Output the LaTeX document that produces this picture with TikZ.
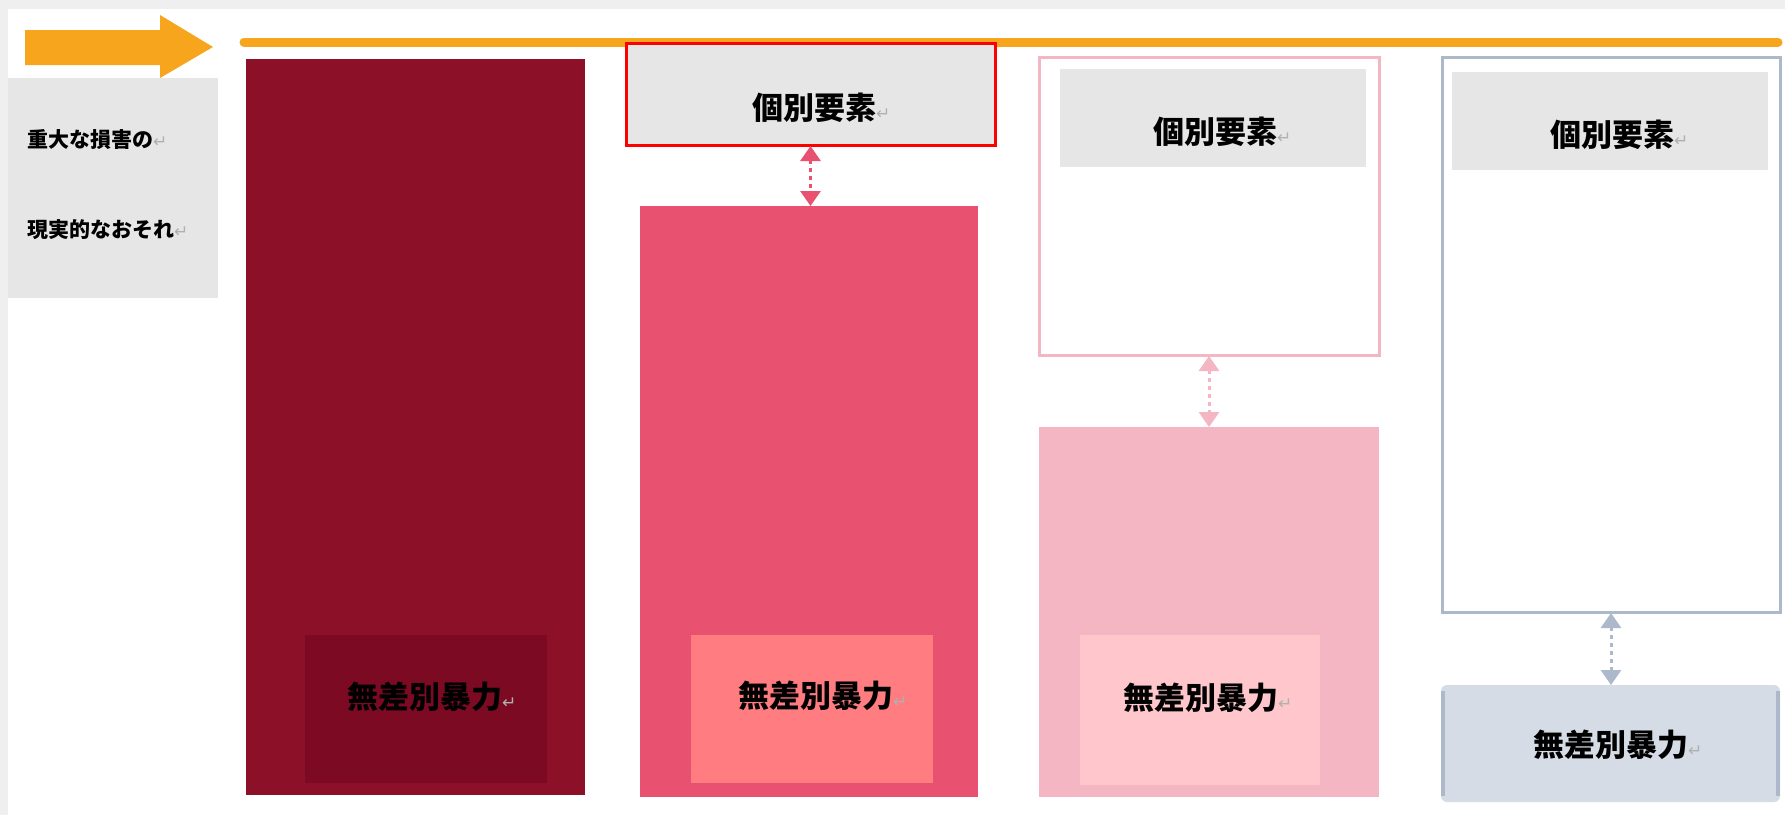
\documentclass[tikz,border=0pt]{standalone}
\usepackage{fontspec}
\newfontfamily\jpfont{Noto Sans CJK JP}
\newfontfamily\dvfont{DejaVu Sans}
\usetikzlibrary{arrows.meta}
\definecolor{bggray}{HTML}{EFEFEF}
\definecolor{orangebar}{HTML}{F7A51C}
\definecolor{labelgray}{HTML}{E7E6E6}
\definecolor{darkcrimson}{HTML}{8B1028}
\definecolor{darkcrimsonin}{HTML}{7C0A22}
\definecolor{rosered}{HTML}{E8516F}
\definecolor{salmon}{HTML}{FF7C80}
\definecolor{lightpink}{HTML}{F4B6C2}
\definecolor{palepink}{HTML}{FFC7CC}
\definecolor{grayblue}{HTML}{ADB9CA}
\definecolor{paleblue}{HTML}{D6DCE5}
\definecolor{markgray}{HTML}{B0B0B0}
\newcommand{\parmk}{{\dvfont\mdseries\color{markgray}\fontsize{17}{17}\selectfont ↵}}
\tikzset{
  box/.style={rectangle, inner sep=0pt, outer sep=0pt, anchor=north west},
  bigtxt/.style={font=\jpfont\bfseries\fontsize{31}{36}\selectfont, inner sep=0pt, anchor=west, text=black},
  smalltxt/.style={font=\jpfont\bfseries\fontsize{21}{24}\selectfont, inner sep=0pt, anchor=west, text=black},
  dblarrow/.style={line width=3pt, dash pattern=on 4pt off 4pt,
    {Triangle[width=20pt,length=15pt]}-{Triangle[width=20pt,length=15pt]}, shorten <=1pt}
}
\begin{document}
\begin{tikzpicture}[x=1pt,y=-1pt]
\useasboundingbox (0,0) rectangle (1785,815);
% background
\fill[bggray] (0,0) rectangle (1785,815);
\fill[white] (8,9) rectangle (1785,815);
% orange arrow and bar
\fill[orangebar] (25,30) -- (160,30) -- (160,15) -- (213,47) -- (160,78) -- (160,65) -- (25,65) -- cycle;
\draw[orangebar, line width=9pt, line cap=round] (244,42) -- (1778,42);
% label box
\node[box, fill=labelgray, minimum width=210pt, minimum height=220pt] (lbl) at (8,78) {};
\node[smalltxt] (lbl1) at (27,140) {重大な損害の\parmk};
\node[smalltxt] (lbl2) at (27,230) {現実的なおそれ\parmk};
% column 1
\node[box, fill=darkcrimson, minimum width=339pt, minimum height=736pt] (r1) at (246,59) {};
\node[box, fill=darkcrimsonin, minimum width=242pt, minimum height=148pt] (i1) at (305,635) {};
\node[bigtxt] (t1) at (347,697) {無差別暴力\parmk};
% column 2
\node[box, fill=labelgray, draw=red, line width=3pt, minimum width=369pt, minimum height=102pt] (g2) at (626,43) {};
\node[bigtxt] (k2) at (752,108) {個別要素\parmk};
\node[box, fill=rosered, minimum width=338pt, minimum height=591pt] (r2) at (640,206) {};
\node[box, fill=salmon, minimum width=242pt, minimum height=148pt] (i2) at (691,635) {};
\node[bigtxt] (t2) at (738,696) {無差別暴力\parmk};
\draw[dblarrow, rosered] (g2.south) -- (g2.south |- r2.north);
% column 3
\node[box, fill=white, draw=lightpink, line width=3pt, minimum width=340pt, minimum height=298pt] (o3) at (1039,57) {};
\node[box, fill=labelgray, minimum width=306pt, minimum height=98pt] (g3) at (1060,69) {};
\node[bigtxt] (k3) at (1153,132) {個別要素\parmk};
\node[box, fill=lightpink, minimum width=340pt, minimum height=370pt] (r3) at (1039,427) {};
\node[box, fill=palepink, minimum width=240pt, minimum height=150pt] (i3) at (1080,635) {};
\node[bigtxt] (t3) at (1123,698) {無差別暴力\parmk};
\draw[dblarrow, lightpink] (o3.south) -- (o3.south |- r3.north);
% column 4
\node[box, fill=white, draw=grayblue, line width=3pt, minimum width=338pt, minimum height=555pt] (o4) at (1442,57) {};
\node[box, fill=labelgray, minimum width=316pt, minimum height=98pt] (g4) at (1452,72) {};
\node[bigtxt] (k4) at (1550,135) {個別要素\parmk};
\node[box, fill=paleblue, rounded corners=6pt, minimum width=339pt, minimum height=117pt] (b4) at (1441,685) {};
\draw[grayblue, line width=4pt] ([xshift=2pt,yshift=-6pt]b4.north west) -- ([xshift=2pt,yshift=6pt]b4.south west);
\draw[grayblue, line width=4pt] ([xshift=-2pt,yshift=-6pt]b4.north east) -- ([xshift=-2pt,yshift=6pt]b4.south east);
\node[bigtxt] (t4) at (1533,745) {無差別暴力\parmk};
\draw[dblarrow, grayblue] (o4.south) -- (o4.south |- b4.north);
\end{tikzpicture}
\end{document}
